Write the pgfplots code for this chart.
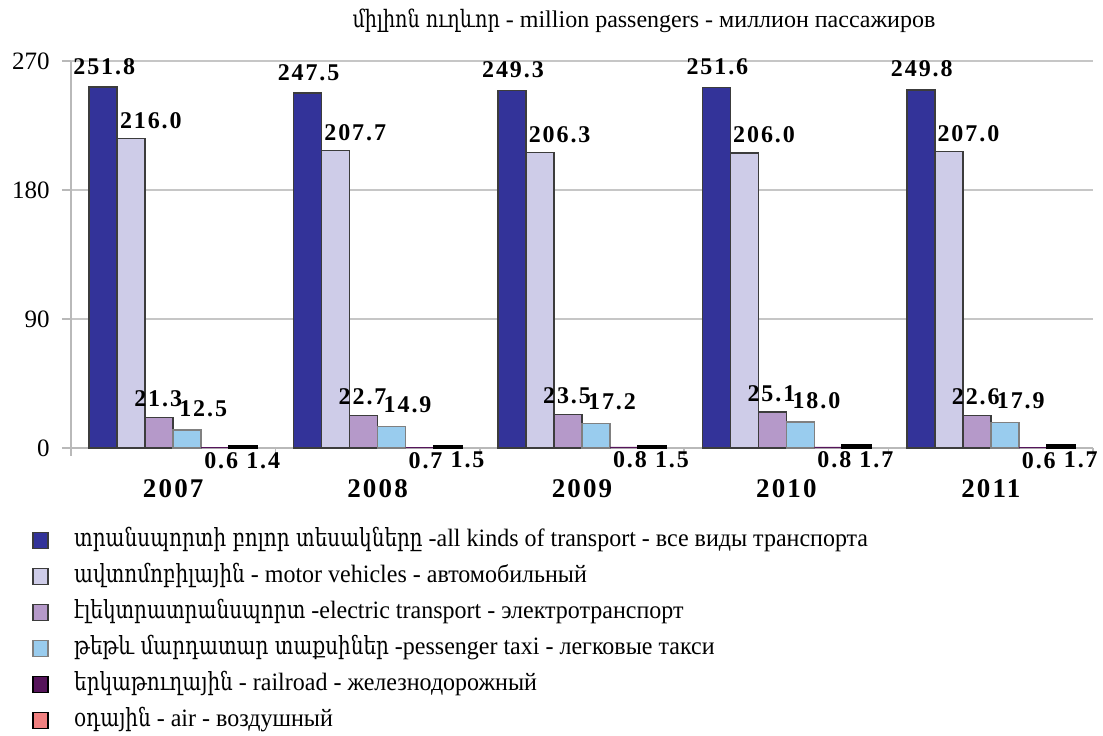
\documentclass[border=0pt]{standalone}
\usepackage{fontspec}
\setmainfont{Liberation Serif}
\newfontfamily\armfont{DejaVu Serif}[FakeStretch=0.8]
\newfontfamily\legfont{Liberation Serif}[FakeStretch=0.96]
\newfontfamily\numfont{Liberation Serif}[LetterSpace=8]
\usepackage{pgfplots}
\pgfplotsset{compat=1.18}

\definecolor{cAll}{RGB}{51,51,153}
\definecolor{cMotor}{RGB}{206,204,232}
\definecolor{cElec}{RGB}{181,153,201}
\definecolor{cTaxi}{RGB}{153,204,238}
\definecolor{cRail}{RGB}{85,20,90}
\definecolor{cAir}{RGB}{240,128,128}
\definecolor{edge}{RGB}{60,60,60}

\pgfplotstableread{
x all motor elec taxi rail air
0 251.8 216.0 21.3 12.5 0.6 1.4
1 247.5 207.7 22.7 14.9 0.7 1.5
2 249.3 206.3 23.5 17.2 0.8 1.5
3 251.6 206.0 25.1 18.0 0.8 1.7
4 249.8 207.0 22.6 17.9 0.6 1.7
}\datatable

\begin{document}
\begin{tikzpicture}[x=1pt,y=1pt]
\path[use as bounding box] (0,0) rectangle (551.5,-367.5);
\begin{axis}[
  at={(35.5pt,-30.5pt)}, anchor=north west,
  scale only axis, width=511pt, height=193.5pt,
  ymin=0, ymax=270, xmin=-0.5, xmax=4.5,
  ybar=0pt, bar width=14pt,
  axis x line*=bottom, axis y line*=left,
  axis line style={draw=gray!55, line width=0.8pt},
  ytick={0,90,180,270},
  ymajorgrids, grid style={draw=gray!45, line width=0.8pt},
  xtick={0,...,4}, xticklabels={2007,2008,2009,2010,2011},
  major x tick style={draw=none},
  minor xtick={-0.5,0.5,...,4.5},
  minor x tick style={draw=gray!55, line width=0.8pt},
  major y tick style={draw=gray!55, line width=0.8pt},
  tick align=outside, major tick length=4.5pt, minor tick length=4pt,
  /pgf/number format/assume math mode=true,
  yticklabel style={font=\fontsize{12.5}{12.5}\selectfont, inner sep=0pt, xshift=-6pt},
  xticklabel style={font=\numfont\bfseries\fontsize{13.5}{13.5}\selectfont, anchor=base, inner sep=0pt, yshift=-20pt},
  nodes near coords={\pgfmathprintnumber[fixed,fixed zerofill,precision=1]{\pgfplotspointmeta}},
  every node near coord/.append style={font=\numfont\bfseries\fontsize{12}{12}\selectfont, inner sep=0pt, anchor=base},
  legend cell align=left,
  legend style={at={(axis description cs:0,0)}, anchor=north west,
    xshift=-19.5pt, yshift=-40pt, draw=none, fill=none, inner sep=0pt,
    row sep=6pt, font=\legfont\fontsize{12.5}{12.5}\selectfont,
    nodes={inner sep=0pt, text height=9pt, text depth=3pt},
    /tikz/every odd column/.append style={column sep=12.5pt}},
  every axis plot post/.append style={legend image code/.code={
    \draw[##1, line width=0.9pt] (0pt,-4pt) rectangle (7.5pt,4pt);}},
]
\addplot[fill=cAll, draw=edge, line width=0.8pt,
  every node near coord/.append style={yshift=6.5pt, xshift=0.5pt}]
  table[x=x, y=all] {\datatable};
\addplot[fill=cMotor, draw=edge, line width=0.8pt,
  every node near coord/.append style={anchor=base west, yshift=5pt, xshift=-6pt}]
  table[x=x, y=motor] {\datatable};
\addplot[fill=cElec, draw=edge, line width=0.8pt,
  every node near coord/.append style={yshift=5.5pt, xshift=-0.5pt}]
  table[x=x, y=elec] {\datatable};
\addplot[fill=cTaxi, draw=gray, line width=0.8pt,
  every node near coord/.append style={yshift=7pt, xshift=8pt}]
  table[x=x, y=taxi] {\datatable};
\addplot[fill=cRail, draw=none,
  every node near coord/.append style={yshift=-10.5pt, xshift=3pt}]
  table[x=x, y=rail] {\datatable};
\addplot[fill=cAir, draw=black, line width=1.1pt,
  every node near coord/.append style={yshift=-11pt, xshift=10pt}]
  table[x=x, y=air] {\datatable};
\legend{{\armfont տրանսպորտի բոլոր տեսակները} -all kinds of transport - все виды транспорта,
  {\armfont ավտոմոբիլային} - motor vehicles - автомобильный,
  {\armfont էլեկտրատրանսպորտ} -electric transport - электротранспорт,
  {\armfont թեթև մարդատար տաքսիներ} -pessenger taxi - легковые такси,
  {\armfont երկաթուղային} - railroad - железнодорожный,
  {\armfont օդային} - air - воздушный}
\end{axis}
\node[font=\fontsize{12}{12}\selectfont, anchor=base] at (322,-13.5)
  {{\armfont\fontsize{12}{12}\selectfont միլիոն ուղևոր} - million passengers - миллион пассажиров};
\end{tikzpicture}
\end{document}
